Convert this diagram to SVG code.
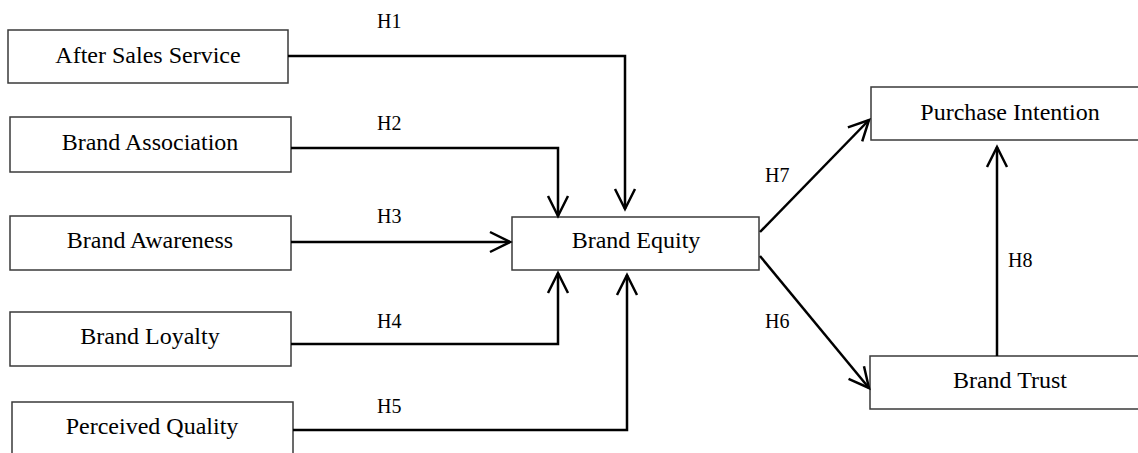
<svg xmlns="http://www.w3.org/2000/svg" width="1138" height="453" viewBox="0 0 1138 453">
<defs>
<style>
.box{fill:#fff;stroke:#3a3a3a;stroke-width:1.5}
.lbl{font-family:"Liberation Serif","Times New Roman",serif;font-size:24px;fill:#000;text-anchor:middle}
.h{font-family:"Liberation Serif","Times New Roman",serif;font-size:20px;fill:#000}
.con{fill:none;stroke:#000;stroke-width:2.5}
</style>
<marker id="arr" markerUnits="userSpaceOnUse" markerWidth="28" markerHeight="28" viewBox="-24 -14 28 28" refX="0" refY="0" orient="auto">
<path d="M-20,-10 L0,0 L-20,10" fill="none" stroke="#000" stroke-width="2.5"/>
</marker>
</defs>
<rect width="1138" height="453" fill="#fff"/>
<g id="after-sales-service"><rect class="box" x="8" y="30" width="280" height="53"/><text class="lbl" x="148" y="63">After Sales Service</text></g>
<g id="brand-association"><rect class="box" x="10" y="117" width="281" height="55"/><text class="lbl" x="150" y="150">Brand Association</text></g>
<g id="brand-awareness"><rect class="box" x="10" y="216" width="281" height="54"/><text class="lbl" x="150" y="248">Brand Awareness</text></g>
<g id="brand-loyalty"><rect class="box" x="10" y="312" width="281" height="54"/><text class="lbl" x="150" y="344">Brand Loyalty</text></g>
<g id="perceived-quality"><rect class="box" x="12" y="402" width="281" height="70"/><text class="lbl" x="152" y="434">Perceived Quality</text></g>
<g id="brand-equity"><rect class="box" x="512" y="217" width="247" height="53"/><text class="lbl" x="636" y="248">Brand Equity</text></g>
<g id="purchase-intention"><rect class="box" x="871" y="87" width="280" height="53"/><text class="lbl" x="1010" y="120">Purchase Intention</text></g>
<g id="brand-trust"><rect class="box" x="870" y="356" width="280" height="53"/><text class="lbl" x="1010" y="388">Brand Trust</text></g>
<g id="connectors">
<path class="con" d="M288,56 H625 V209" marker-end="url(#arr)"/>
<path class="con" d="M291,148 H558 V216" marker-end="url(#arr)"/>
<path class="con" d="M291,242 H510" marker-end="url(#arr)"/>
<path class="con" d="M291,344 H558 V273" marker-end="url(#arr)"/>
<path class="con" d="M293,430 H627 V275" marker-end="url(#arr)"/>
<path class="con" d="M760,232 L869,120" marker-end="url(#arr)"/>
<path class="con" d="M760,256 L869,388" marker-end="url(#arr)"/>
<path class="con" d="M997,356 V147" marker-end="url(#arr)"/>
<text class="h" x="377" y="28">H1</text>
<text class="h" x="377" y="130">H2</text>
<text class="h" x="377" y="223">H3</text>
<text class="h" x="377" y="328">H4</text>
<text class="h" x="377" y="413">H5</text>
<text class="h" x="765" y="182">H7</text>
<text class="h" x="765" y="328">H6</text>
<text class="h" x="1008" y="267">H8</text>
</g>
</svg>
